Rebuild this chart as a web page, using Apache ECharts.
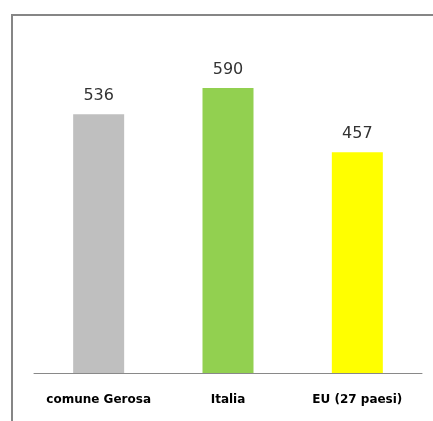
<!DOCTYPE html>
<html><head><meta charset="utf-8">
<script src="https://cdn.jsdelivr.net/npm/echarts@6/dist/echarts.min.js"></script>
<style>html,body{margin:0;padding:0;background:#fff}#c{width:433px;height:421px}</style>
</head><body><div id="c"></div>
<script>
const categories = ['comune Gerosa', 'Italia', 'EU (27 paesi)'];
const values = [536, 590, 457];
const colors = ['#bfbfbf', '#92d050', '#ffff00'];

const chart = echarts.init(document.getElementById('c'), null, {renderer: 'canvas'});
chart.setOption({
  animation: false,
  backgroundColor: '#fff',
  graphic: [{
    type: 'polyline',
    shape: {points: [[12, 421], [12, 15], [433, 15]]},
    style: {stroke: '#868686', lineWidth: 2, fill: null}
  }],
  grid: {left: 34, right: 11, top: 35, bottom: 48},
  xAxis: {
    type: 'category',
    data: categories,
    axisLine: {lineStyle: {color: '#898989', width: 1}},
    axisTick: {show: false},
    axisLabel: {interval: 0, hideOverlap: false, margin: 21, color: '#000', fontFamily: 'DejaVu Sans', fontWeight: 'bold', fontSize: 12}
  },
  yAxis: {
    type: 'value', min: 0, max: 700, show: false,
    splitLine: {show: false}
  },
  series: [{
    type: 'bar',
    barWidth: 51,
    data: values.map((v, i) => ({value: v, itemStyle: {color: colors[i]}})),
    label: {show: true, position: 'top', distance: 10, color: '#333', fontFamily: 'DejaVu Sans', fontSize: 16}
  }]
});
</script></body></html>
